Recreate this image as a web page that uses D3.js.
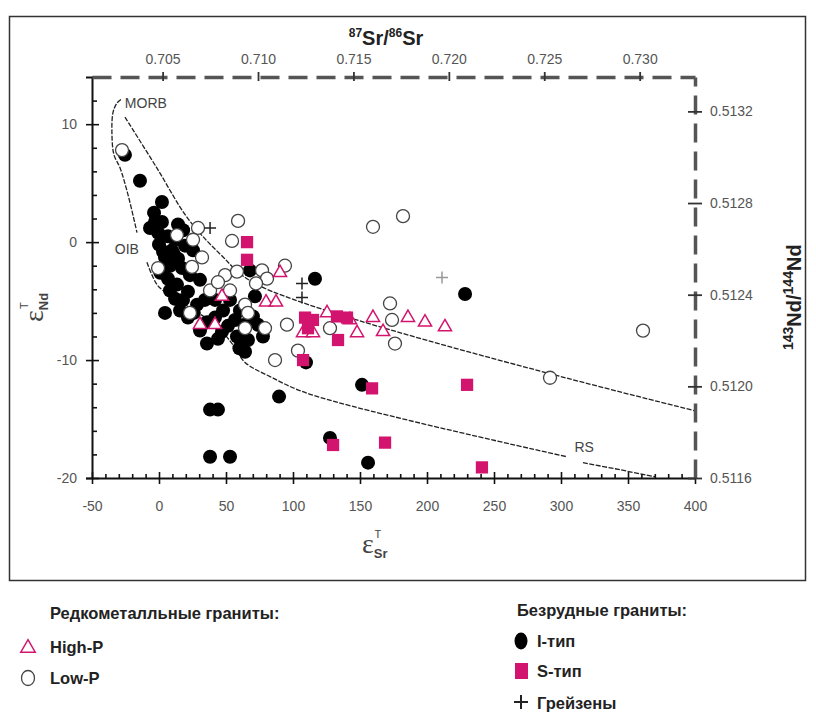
<!DOCTYPE html>
<html>
<head>
<meta charset="utf-8">
<script src="https://cdn.jsdelivr.net/npm/d3@7"></script>
<style>
  body { margin: 0; background: #fff; }
  svg { display: block; font-family: "Liberation Sans", Arial, sans-serif; }
</style>
</head>
<body>
<div id="graph"></div>
<script>
'use strict'

// tick values
const xTicks = [-50, 0, 50, 100, 150, 200, 250, 300, 350, 400]
const yTicks = [-20, -10, 0, 10]
const srTicks = [0.705, 0.710, 0.715, 0.720, 0.725, 0.730]
const ndTicks = [0.5116, 0.5120, 0.5124, 0.5128, 0.5132]

// εSr, εNd pairs
const iType = [
  [-25.4, 7.4], [-14.2, 5.2], [2.2, 3.4], [-3.7, 2.5], [2.2, 1.7], [14.2, 1.5],
  [-0.7, 0.8], [6.7, 0.5], [0, -0.2], [9.7, -0.7], [4.5, -1.3], [14.2, -1.4],
  [8.2, -2.0], [17.2, -2.2], [6.7, -3.1], [13.4, -3.6], [8.2, -4.1], [21.6, -4.2],
  [17.9, -4.9], [28.4, -5.3], [34.3, -4.9], [21.6, -6.4], [4.5, -6.0], [35.8, -6.8],
  [47.8, -5.8], [51.5, -7.1], [58.2, -8.0], [64.2, -9.3], [70.1, -6.3], [77.6, -8.0],
  [71.6, -4.6], [67.9, -2.4], [35.8, -8.6], [38.1, -14.2], [44.0, -14.2], [38.1, -18.2],
  [53.0, -18.2], [89.6, -13.1], [116.4, -3.1], [228.4, -4.4], [151.5, -12.1], [156.0, -18.7],
  [127.6, -16.6], [109.7, -10.2], [25.4, -0.7], [19.4, -0.3], [23.1, -2.8], [30.6, -3.2],
  [41.8, -4.9], [53.0, -4.9], [60.4, -5.8], [41.8, -6.4], [47.0, -7.6], [64.2, -7.0],
  [73.9, -7.0], [56.7, -6.6], [-6.7, 1.2], [-3.0, 1.7], [11.9, 0.2], [15.7, -5.8],
  [30.6, -7.5], [66.4, -8.3], [3.0, -0.8], [11.0, -1.0], [18.0, 1.0], [1.0, -2.6],
  [12.0, -4.8], [26.0, -6.0], [44.0, -8.2], [60.0, -9.0]
]
const lowP = [
  [-27.6, 7.8], [-0.7, -2.2], [59.0, 1.8], [54.5, 0.1], [29.1, 1.2], [13.4, 0.6],
  [25.4, 0.2], [32.1, -1.3], [24.6, -2.1], [49.3, -2.8], [58.2, -2.5], [76.9, -2.4],
  [80.6, -3.1], [94.0, -2.0], [159.7, 1.3], [182.1, 2.2], [64.2, -5.3], [66.4, -6.0],
  [64.2, -7.3], [79.1, -7.3], [95.5, -7.0], [86.6, -10.0], [103.7, -9.2], [127.6, -7.3],
  [172.4, -5.2], [173.9, -6.6], [176.1, -8.6], [291.8, -11.5], [361.2, -7.5], [23.1, -6.0],
  [38.1, -4.1], [44.0, -3.4], [53.0, -4.1], [72.4, -3.5]
]
const highP = [
  [30.6, -7.0], [41.8, -7.0], [47.0, -4.6], [79.9, -5.1], [87.3, -5.1], [107.5, -7.7],
  [114.9, -7.7], [125.4, -6.0], [147.8, -7.7], [159.7, -6.4], [167.2, -7.6], [185.8, -6.4],
  [198.5, -6.8], [213.4, -7.2], [90.3, -2.6], [142.5, -6.6]
]
const sType = [
  [65.7, 0.0], [65.7, -1.5], [109.0, -6.4], [114.9, -6.6], [111.2, -7.3], [132.8, -6.3],
  [140.3, -6.4], [133.6, -8.3], [107.5, -10.0], [159.0, -12.4], [229.9, -12.1], [129.9, -17.2],
  [168.7, -17.0], [241.0, -19.1]
]
const greisen = [[38.1, 1.2], [106.7, -3.5], [106.7, -4.7]]
const greisenFaint = [[211.2, -3.0]]

// field outlines
const morbLeft = [[-28.4, 12.1], [-31.3, 11.8], [-34.3, 11.0], [-35.1, 9.1], [-33.6, 7.4],
  [-29.1, 6.3], [-23.1, 4.0], [-16.4, 0.8]]
const mantleUpper = [[-25.4, 10.6], [-2.2, 6.4], [21.6, 2.0], [45.5, -1.0], [73.1, -3.6], [400, -14.3]]
const mantleLower = [[-9.0, -1.7], [-5.2, -2.8], [0, -3.8], [19.4, -5.3], [41.8, -7.0], [55.2, -8.7],
  [64.2, -10.2], [82.8, -11.4], [112.7, -12.9], [304.5, -18.2]]
const mantleLowerEnd = [[316.4, -18.7], [344.0, -19.3], [370.1, -19.9]]

const magenta = '#d3146e'
const tickGray = '#555'

let svg = d3.select('#graph').append('svg')
  .attr('width', 816)
  .attr('height', 716)

let x = d3.scaleLinear().domain([-50, 400]).range([92, 695])
let y = d3.scaleLinear().domain([-20, 14]).range([478, 77])
let sr = d3.scaleLinear().domain([0.7013, 0.7329]).range([92, 695])
let nd = d3.scaleLinear().domain([0.5116, 0.51335]).range([478, 77])

// frame
svg.append('rect')
  .attr('x', 9.5).attr('y', 16.5)
  .attr('width', 796).attr('height', 564)
  .attr('fill', 'none')
  .attr('stroke', '#333')
  .attr('stroke-width', 1.5)

// curves
let line = d3.line()
  .x(d => x(d[0]))
  .y(d => y(d[1]))
  .curve(d3.curveCatmullRom)

let curves = svg.append('g')
  .attr('fill', 'none')
  .attr('stroke', '#222')
  .attr('stroke-width', 1.3)
  .attr('stroke-dasharray', '5,1.5')

;[morbLeft, mantleUpper, mantleLower, mantleLowerEnd].forEach(c => {
  curves.append('path').datum(c).attr('d', line)
})

svg.append('g')
  .attr('font-size', 14)
  .attr('fill', '#444')
  .selectAll('text')
  .data([['MORB', -25.5, 11.8], ['OIB', -33, -0.6], ['RS', 310, -17.4]])
  .join('text')
    .attr('x', d => x(d[1]))
    .attr('y', d => y(d[2]))
    .attr('dy', '0.35em')
    .text(d => d[0])

// axes
let plain = d => String(d)

let axBottom = svg.append('g')
  .attr('transform', `translate(0, ${y(-20)})`)
axBottom.call(d3.axisBottom(x).tickValues(xTicks).tickSize(6).tickSizeOuter(0).tickPadding(17)
  .tickFormat(plain))
axBottom.append('g').call(d3.axisTop(x).tickValues(xTicks).tickSize(6).tickFormat(''))
axBottom.append('g').call(d3.axisTop(x)
  .tickValues(d3.range(-40, 400, 10).filter(v => v % 50 !== 0))
  .tickSize(4).tickFormat(''))

let axLeft = svg.append('g')
  .attr('transform', `translate(${x(-50)}, 0)`)
axLeft.call(d3.axisLeft(y).tickValues(yTicks).tickSize(6).tickSizeOuter(6).tickPadding(9)
  .tickFormat(plain))
axLeft.append('g').call(d3.axisRight(y).tickValues(yTicks.concat([14])).tickSize(7).tickFormat(''))
axLeft.append('g').call(d3.axisRight(y)
  .tickValues(d3.range(-18, 14, 2).filter(v => v % 10 !== 0))
  .tickSize(5).tickFormat(''))

axBottom.selectAll('g g .domain').remove()
axLeft.selectAll('g g .domain').remove()
;[axBottom, axLeft].forEach(a => {
  a.selectAll('.domain').attr('stroke', '#111').attr('stroke-width', 2)
  a.selectAll('.tick line').attr('stroke', '#111').attr('stroke-width', 1.6)
})

let axTop = svg.append('g')
  .attr('transform', `translate(0, ${y(14)})`)
axTop.call(d3.axisTop(sr).tickValues(srTicks).tickSize(5).tickSizeOuter(0).tickPadding(8)
  .tickFormat(d3.format('.3f')))
axTop.append('g').call(d3.axisBottom(sr).tickValues(srTicks).tickSize(4).tickFormat(''))

let axRight = svg.append('g')
  .attr('transform', `translate(${x(400)}, 0)`)
axRight.call(d3.axisRight(nd).tickValues(ndTicks).tickSize(7).tickSizeOuter(0).tickPadding(8)
  .tickFormat(d3.format('.4f')))
axRight.append('g').call(d3.axisLeft(nd).tickValues(ndTicks).tickSize(7).tickFormat(''))

axTop.selectAll('g g .domain').remove()
axRight.selectAll('g g .domain').remove()
;[axTop, axRight].forEach(a => {
  a.selectAll('.domain')
    .attr('stroke', tickGray)
    .attr('stroke-width', 3.5)
    .attr('stroke-dasharray', '19,9')
  a.selectAll('.tick line').attr('stroke', '#333').attr('stroke-width', 1.8)
})

svg.selectAll('.tick text')
  .attr('font-family', '"Liberation Sans", Arial, sans-serif')
  .attr('font-size', 14)
  .attr('fill', tickGray)

// axis titles
let tSr = svg.append('text')
  .attr('x', 386).attr('y', 45)
  .attr('text-anchor', 'middle')
  .attr('font-weight', 'bold')
  .attr('font-size', 20)
  .attr('fill', '#222')
tSr.append('tspan').attr('font-size', 12).attr('dy', -8).text('87')
tSr.append('tspan').attr('dy', 8).text('Sr/')
tSr.append('tspan').attr('font-size', 12).attr('dy', -8).text('86')
tSr.append('tspan').attr('dy', 8).text('Sr')

let tNd = svg.append('text')
  .attr('transform', 'translate(801, 350) rotate(-90)')
  .attr('font-weight', 'bold')
  .attr('font-size', 20)
  .attr('fill', '#222')
tNd.append('tspan').attr('font-size', 14).attr('dy', -8).text('143')
tNd.append('tspan').attr('dy', 8).text('Nd/')
tNd.append('tspan').attr('font-size', 14).attr('dy', -8).text('144')
tNd.append('tspan').attr('dy', 8).text('Nd')

let epsX = svg.append('text')
  .attr('x', 362).attr('y', 553)
  .attr('font-family', '"Liberation Serif", serif')
  .attr('font-size', 28)
  .attr('fill', '#444')
epsX.append('tspan').text('ε')
epsX.append('tspan').attr('font-family', '"Liberation Sans", sans-serif')
  .attr('font-size', 13).attr('font-weight', 'bold').attr('dy', 5).text('Sr')
epsX.append('tspan').attr('font-family', '"Liberation Sans", sans-serif')
  .attr('font-size', 11).attr('dx', -13).attr('dy', -20).text('T')

let epsY = svg.append('text')
  .attr('transform', 'translate(43, 322) rotate(-90)')
  .attr('font-family', '"Liberation Serif", serif')
  .attr('font-size', 28)
  .attr('fill', '#444')
epsY.append('tspan').text('ε')
epsY.append('tspan').attr('font-family', '"Liberation Sans", sans-serif')
  .attr('font-size', 13).attr('font-weight', 'bold').attr('dy', 5).text('Nd')
epsY.append('tspan').attr('font-family', '"Liberation Sans", sans-serif')
  .attr('font-size', 11).attr('dx', -16).attr('dy', -20).text('T')

// points
let pts = svg.append('g')

pts.append('g').selectAll('circle')
  .data(iType)
  .join('circle')
    .attr('cx', d => x(d[0]))
    .attr('cy', d => y(d[1]))
    .attr('r', 7)
    .attr('fill', '#000')

pts.append('g').selectAll('circle')
  .data(lowP)
  .join('circle')
    .attr('cx', d => x(d[0]))
    .attr('cy', d => y(d[1]))
    .attr('r', 6.5)
    .attr('fill', '#fff')
    .attr('stroke', '#444')
    .attr('stroke-width', 1.3)

let tri = d3.symbol(d3.symbolTriangle, 75)
pts.append('g').selectAll('path')
  .data(highP)
  .join('path')
    .attr('transform', d => `translate(${x(d[0])}, ${y(d[1])})`)
    .attr('d', tri)
    .attr('fill', '#fff')
    .attr('stroke', magenta)
    .attr('stroke-width', 1.5)

let sq = d3.symbol(d3.symbolSquare, 150)
pts.append('g').selectAll('path')
  .data(sType)
  .join('path')
    .attr('transform', d => `translate(${x(d[0])}, ${y(d[1])})`)
    .attr('d', sq)
    .attr('fill', magenta)

let plus = (px, py, s) => `M${px - s},${py}H${px + s}M${px},${py - s}V${py + s}`
pts.append('g').selectAll('path')
  .data(greisen)
  .join('path')
    .attr('d', d => plus(x(d[0]), y(d[1]), 6))
    .attr('stroke', '#222')
    .attr('stroke-width', 1.5)
pts.append('g').selectAll('path')
  .data(greisenFaint)
  .join('path')
    .attr('d', d => plus(x(d[0]), y(d[1]), 6))
    .attr('stroke', '#999')
    .attr('stroke-width', 1.5)

// legend
let legend = svg.append('g')
  .attr('font-weight', 'bold')
  .attr('font-size', 16.5)
  .attr('fill', '#222')

legend.append('text').attr('x', 50).attr('y', 619).text('Редкометалльные граниты:')
legend.append('text').attr('x', 50).attr('y', 653).text('High-P')
legend.append('text').attr('x', 50).attr('y', 684).text('Low-P')
legend.append('text').attr('x', 517).attr('y', 616).text('Безрудные граниты:')
legend.append('text').attr('x', 537).attr('y', 647).text('I-тип')
legend.append('text').attr('x', 537).attr('y', 677).text('S-тип')
legend.append('text').attr('x', 537).attr('y', 709).text('Грейзены')

legend.append('path')
  .attr('transform', 'translate(28, 648)')
  .attr('d', d3.symbol(d3.symbolTriangle, 90))
  .attr('fill', '#fff')
  .attr('stroke', magenta)
  .attr('stroke-width', 1.5)
legend.append('ellipse')
  .attr('cx', 28).attr('cy', 678)
  .attr('rx', 6.5).attr('ry', 7.5)
  .attr('fill', '#fff')
  .attr('stroke', '#444')
  .attr('stroke-width', 1.3)
legend.append('ellipse')
  .attr('cx', 521).attr('cy', 641)
  .attr('rx', 6.5).attr('ry', 8.5)
  .attr('fill', '#000')
legend.append('rect')
  .attr('x', 515).attr('y', 663)
  .attr('width', 13).attr('height', 16)
  .attr('fill', magenta)
legend.append('path')
  .attr('d', plus(521, 702, 7))
  .attr('stroke', '#222')
  .attr('stroke-width', 2)
</script>
</body>
</html>
